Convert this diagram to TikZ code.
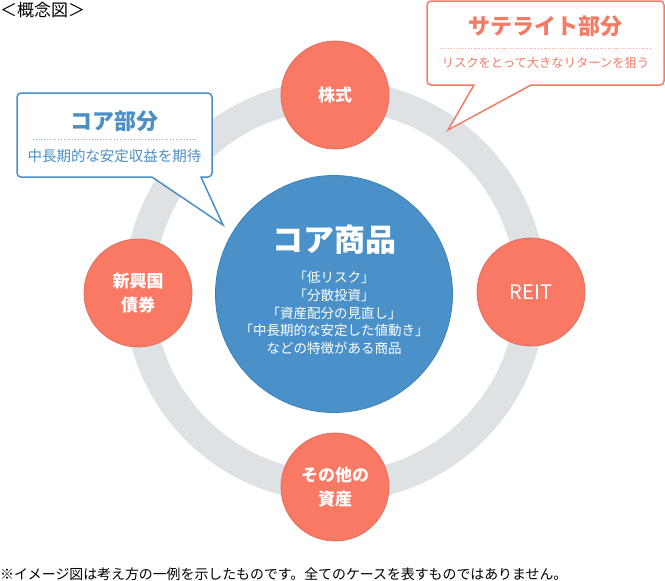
\documentclass[tikz,border=0pt]{standalone}
\usepackage{fontspec}
\setmainfont{Noto Sans CJK JP}
\usepackage{tikz}
\usetikzlibrary{positioning}
\definecolor{coreblue}{HTML}{4A91C9}
\definecolor{coreedge}{HTML}{3F80B4}
\definecolor{satred}{HTML}{F97965}
\definecolor{satedge}{HTML}{E0705D}
\definecolor{ringgray}{HTML}{DFE2E5}
\definecolor{callblue}{HTML}{4A8FC6}
\definecolor{callred}{HTML}{F47B66}
\newcommand{\pxsize}[2]{\fontsize{#1}{#2}\selectfont}

\begin{document}
\begin{tikzpicture}[x=1pt,y=-1pt,
		sat/.style={circle,fill=satred,draw=satedge,line width=0.8pt,minimum size=108pt,inner sep=0pt,text=white,align=center,font=\bfseries\pxsize{17}{24}},
		callout/.style={draw=#1,fill=white,line width=1.5pt},
		calltitle/.style={text=#1,font=\bfseries\pxsize{22}{22},inner sep=0pt},
		callsub/.style={text=#1,inner sep=0pt},
		rule/.style={draw=#1!70,dotted,line width=0.8pt}]
		\useasboundingbox (0,0) rectangle (665,581);
		\node[anchor=west,inner sep=0pt,font=\pxsize{17}{17}] (head) at (0,10) {＜概念図＞};
		\coordinate (ctr) at (335,291);
		\draw[ringgray,line width=30pt] (ctr) circle[radius=196pt];
		\node[sat] (kabu) at (335,95) {株式};
		\node[sat,font=\pxsize{20}{20}] (reit) at (531,292) {REIT};
		\node[sat] (shinko) at (138,293) {新興国\\債券};
		\node[sat] (sonota) at (335,487) {その他の\\資産};
		\node[circle,fill=coreblue,draw=coreedge,line width=0.8pt,minimum size=237pt,inner sep=0pt] (core) at (334,294) {};
		\node[text=white,font=\bfseries\pxsize{31}{31},inner sep=0pt] (coretitle) at (334,240) {コア商品};
		\node[text=white,align=center,font=\pxsize{13.5}{17.7},inner sep=0pt] (coretext) at (334,313) {「低リスク」\\「分散投資」\\「資産配分の見直し」\\「中長期的な安定した値動き」\\などの特徴がある商品};
		\coordinate (coretip) at (223,225);
		\draw[callout=callblue] (coretip) -- (152,177) [rounded corners=4pt] -- (17,177) -- (17,93) -- (212,93) -- (212,177) [sharp corners] -- (201,177) -- cycle;
		\node[calltitle=callblue] (corehead) at (114.5,121) {コア部分};
		\draw[rule=callblue] (33,139) -- (198,139);
		\node[callsub=callblue,font=\pxsize{14.5}{14.5}] (coresub) at (114.5,156) {中長期的な安定収益を期待};
		\coordinate (sattip) at (448,130);
		\draw[callout=callred] (sattip) -- (474,85) [rounded corners=4pt] -- (427,85) -- (427,1) -- (664,1) -- (664,85) [sharp corners] -- (531,85) -- cycle;
		\node[calltitle=callred] (sathead) at (545.5,26) {サテライト部分};
		\draw[rule=callred] (440,48) -- (651,48);
		\node[callsub=callred,font=\pxsize{12.3}{12.3}] (satsub) at (545.5,63) {リスクをとって大きなリターンを狙う};
		\node[anchor=west,inner sep=0pt,font=\pxsize{13.9}{13.9}] (note) at (0,574) {※イメージ図は考え方の一例を示したものです。全てのケースを表すものではありません。};
	\end{tikzpicture}
\end{document}
